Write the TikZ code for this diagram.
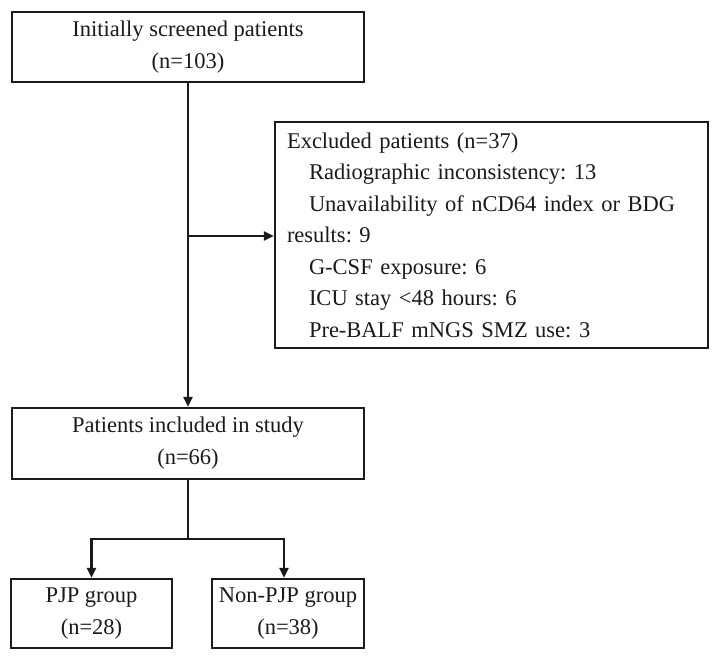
\documentclass[tikz,border=0pt]{standalone}
\usepackage{fontspec}
\setmainfont{Liberation Serif}
\usetikzlibrary{arrows.meta}
\frenchspacing
\definecolor{fcInk}{HTML}{1A1A1A}
\tikzset{
  fc box/.style={draw=fcInk, line width=2.2pt, rectangle, inner sep=0pt,
    align=center, text=fcInk, font=\fontsize{22.5}{32}\selectfont},
  fc list/.style={fc box, align=left, inner xsep=12pt,
    font=\fontsize{22.5}{31.5}\selectfont},
  fc line/.style={draw=fcInk, line width=2.2pt},
  fc arrow/.style={fc line, -{Triangle[length=10pt,width=9pt]}},
}
\newcommand{\fcindent}{\hspace*{22pt}}

\begin{document}
\begin{tikzpicture}[x=1pt, y=-1pt]
  \useasboundingbox (0,0) rectangle (720,659);

  % main column of boxes
  \node[fc box, minimum width=352pt, minimum height=70pt] (screened)
    at (188,47) {Initially screened patients\\(n=103)};
  \node[fc box, minimum width=352pt, minimum height=71pt] (included)
    at (188,443.5) {Patients included in study\\(n=66)};

  % exclusion box on the right
  \node[fc list, text width=409pt, minimum height=226pt] (excluded)
    at (491.5,235) {Excluded patients (n=37)\\
      \fcindent Radiographic inconsistency: 13\\
      \fcindent Unavailability of nCD64 index or BDG\\
      results: 9\\
      \fcindent G-CSF exposure: 6\\
      \fcindent ICU stay <48 hours: 6\\
      \fcindent Pre-BALF mNGS SMZ use: 3};

  % the two groups
  \node[fc box, minimum width=161pt, minimum height=69pt] (pjp)
    at (91.5,613.5) {PJP group\\(n=28)};
  \node[fc box, minimum width=152pt, minimum height=69pt] (nonpjp)
    at (288,613.5) {Non-PJP group\\(n=38)};

  \coordinate (split) at (188,236);
  \coordinate (fork) at (188,539);

  % connectors
  \draw[fc arrow] (screened) -- (included);
  \draw[fc arrow] (split) -- (split -| excluded.west);
  \draw[fc line] (included) -- (fork);
  \draw[fc arrow] (fork) -| (pjp);
  \draw[fc arrow] (fork) -| ([xshift=-4pt]nonpjp.north);
\end{tikzpicture}
\end{document}
